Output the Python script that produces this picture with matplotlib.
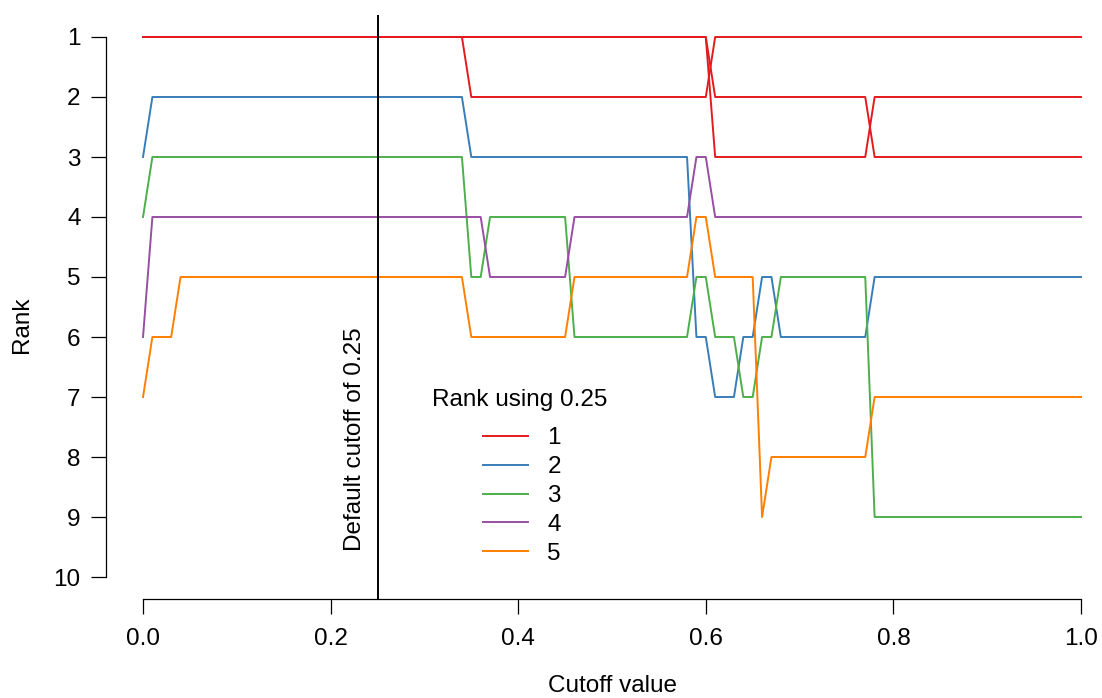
import numpy as np
import matplotlib
matplotlib.use("Agg")
import matplotlib.pyplot as plt
from matplotlib.lines import Line2D

plt.rcParams['font.family'] = ['Liberation Sans', 'DejaVu Sans']

# cutoff grid 0.00 .. 1.00 in steps of 0.01
cutoff = np.round(np.arange(101) * 0.01, 2)

# ranks as (rank, number of consecutive cutoffs)
red_a  = [(1, 61), (3, 17), (2, 23)]
red_b  = [(1, 61), (2, 17), (3, 23)]
red_c  = [(1, 35), (2, 26), (1, 40)]
blue   = [(3, 1), (2, 34), (3, 24), (6, 2), (7, 3), (6, 2), (5, 2), (6, 10), (5, 23)]
green  = [(4, 1), (3, 34), (5, 2), (4, 9), (6, 13), (5, 2), (6, 3), (7, 2), (6, 2), (5, 10), (9, 23)]
purple = [(6, 1), (4, 36), (5, 9), (4, 13), (3, 2), (4, 40)]
orange = [(7, 1), (6, 3), (5, 31), (6, 11), (5, 13), (4, 2), (5, 5), (9, 1), (8, 11), (7, 23)]

series = [(red_a, 1), (red_b, 1), (red_c, 1), (blue, 2), (green, 3), (purple, 4), (orange, 5)]
colours = {1: '#E41A1C', 2: '#377EB8', 3: '#4DAF4A', 4: '#984EA3', 5: '#FF7F00'}
legend_ranks = [1, 2, 3, 4, 5]

def expand(runs):
    return np.concatenate([np.repeat(r, n) for r, n in runs])

fs = 17.5
fig = plt.figure(figsize=(11.02, 6.98), dpi=100)
ax = fig.add_axes([105.5/1102, 1-598.6/698, 1013/1102, 583.2/698])

for runs, grp in series:
    ax.plot(cutoff, expand(runs), color=colours[grp], linewidth=1.4, clip_on=True)

ax.axvline(0.25, color='black', linewidth=1.4)
ax.annotate('Default cutoff of 0.25', xy=(0.25, 9.57), xytext=(-8, 0),
            textcoords='offset points', rotation=90, ha='right', va='bottom', fontsize=fs)

ax.set_xlim(-0.04, 1.04)
ax.set_ylim(10.36, 0.64)
ax.set_xticks([0, 0.2, 0.4, 0.6, 0.8, 1.0])
ax.set_xticklabels(['0.0', '0.2', '0.4', '0.6', '0.8', '1.0'])
ax.set_yticks(range(1, 11))
ax.tick_params(axis='both', labelsize=fs, length=11, width=0.9)
ax.tick_params(axis='x', pad=10)
ax.tick_params(axis='y', pad=7)
for s in ['top', 'right']:
    ax.spines[s].set_visible(False)
ax.spines['left'].set_bounds(1, 10)
ax.spines['bottom'].set_bounds(0, 1)
ax.spines['left'].set_linewidth(0.9)
ax.spines['bottom'].set_linewidth(0.9)

# legend: title drawn separately so the gap under it matches
fig.text(519.5/1102, 1-400/698, 'Rank using 0.25', ha='center', va='center', fontsize=fs)
handles = [Line2D([], [], color=colours[r], linewidth=1.4) for r in legend_ranks]
fig.legend(handles, [str(r) for r in legend_ranks],
           frameon=False, loc='center left', bbox_to_anchor=(483/1102, 1-496/698),
           borderpad=0, borderaxespad=0,
           fontsize=fs, handlelength=1.85, handletextpad=0.8,
           labelspacing=0.28)

fig.text(22/1102, 1-325/698, 'Rank', rotation=90, ha='center', va='center', fontsize=fs)
fig.text(612/1102, 1-686/698, 'Cutoff value', ha='center', va='center', fontsize=fs)

fig.savefig('out.png', dpi=100)
